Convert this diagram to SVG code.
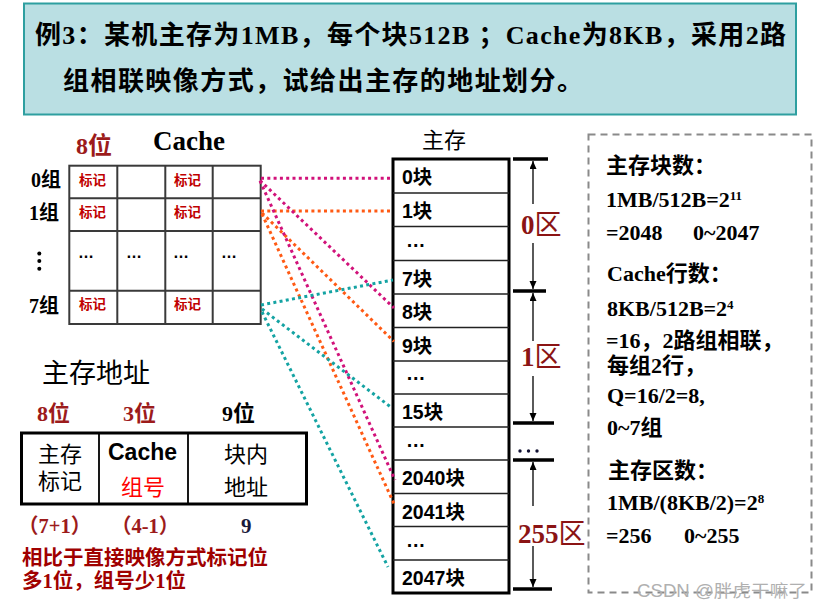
<svg xmlns="http://www.w3.org/2000/svg" width="821" height="610" viewBox="0 0 821 610">
<defs>
<style>
.ser{font-family:"Liberation Serif","Noto Sans CJK SC",serif;font-weight:bold}
.sans{font-family:"Liberation Sans","Noto Sans CJK SC",sans-serif}
.b{font-weight:bold}
.dr{fill:#9c1b1b}
.grid{fill:none;stroke:#3a3a3a;stroke-width:2}
.cell{fill:none;stroke:#222;stroke-width:1.5}
.tag{font-family:"Liberation Sans","Noto Sans CJK SC",sans-serif;font-weight:bold;font-size:13.5px;fill:#c00000}
.blk{font-family:"Liberation Sans","Noto Sans CJK SC",sans-serif;font-weight:bold;font-size:19.5px;fill:#000}
.dot{fill:none;stroke-width:3;stroke-dasharray:3 3.3}
.mg{stroke:#d1127a}
.og{stroke:#ff5a14}
.tl{stroke:#14a3a3}
.bar{stroke:#000;stroke-width:3.5}
.arr{stroke:#000;stroke-width:1.3;marker-end:url(#ah)}
.zone{font-family:"Liberation Serif","Noto Sans CJK SC",serif;font-size:27px;fill:#8b1414}
.rt{font-family:"Liberation Serif","Noto Sans CJK SC",serif;font-weight:bold;font-size:22px;fill:#000}
</style>
<marker id="ah" markerUnits="userSpaceOnUse" markerWidth="9" markerHeight="8" refX="8" refY="3.5" orient="auto">
<path d="M0,0 L8,3.5 L0,7 z" fill="#000"/>
</marker>
</defs>
<rect width="821" height="610" fill="#fff"/>

<g id="title">
<rect x="24" y="3.5" width="772" height="111" fill="#badfe3" stroke="#2e9fa0" stroke-width="2"/>
<text class="ser" x="35" y="44" font-size="26" textLength="751" lengthAdjust="spacing">例3：某机主存为1MB，每个块512B ；Cache为8KB，采用2路</text>
<text class="ser" x="63" y="90" font-size="26" textLength="520" lengthAdjust="spacing">组相联映像方式，试给出主存的地址划分。</text>
</g>

<g id="cache">
<text class="ser dr" x="76" y="154" font-size="24">8位</text>
<text class="ser" x="153" y="150" font-size="27">Cache</text>
<text class="ser" x="31" y="187" font-size="20">0组</text>
<text class="ser" x="29" y="220" font-size="20">1组</text>
<circle cx="39.3" cy="253.5" r="2"/><circle cx="39.3" cy="261" r="2"/><circle cx="39.3" cy="268.8" r="2"/>
<text class="ser" x="29" y="313" font-size="20">7组</text>
<rect class="grid" x="69.3" y="165.7" width="191.4" height="158.3"/>
<path class="grid" d="M117.3,165.7V324M165.3,165.7V324M212.7,165.7V324M69.3,198.3H260.7M69.3,231H260.7M69.3,290.7H260.7"/>
<text class="tag" x="79" y="185">标记</text>
<text class="tag" x="174" y="185">标记</text>
<text class="tag" x="79" y="217">标记</text>
<text class="tag" x="174" y="217">标记</text>
<text class="tag" x="79" y="309">标记</text>
<text class="tag" x="174" y="309">标记</text>
<g class="sans b" font-size="16">
<text x="78" y="258">…</text><text x="126" y="258">…</text><text x="173" y="258">…</text><text x="221" y="258">…</text>
</g>
</g>

<g id="memory">
<text class="sans" x="422" y="148" font-size="22">主存</text>
<rect x="393" y="159" width="116" height="434" fill="none" stroke="#000" stroke-width="3"/>
<path class="cell" d="M393,193H509M393,226.5H509M393,260.5H509M393,294H509M393,327.5H509M393,361H509M393,394H509M393,427H509M393,460H509M393,493.5H509M393,526.5H509M393,560H509"/>
<text class="blk" x="402" y="184">0块</text>
<text class="blk" x="402" y="218">1块</text>
<text class="blk" x="406" y="247" font-size="24">…</text>
<text class="blk" x="402" y="285.5">7块</text>
<text class="blk" x="402" y="319">8块</text>
<text class="blk" x="402" y="352.5">9块</text>
<text class="blk" x="406" y="380" font-size="24">…</text>
<text class="blk" x="402" y="419">15块</text>
<text class="blk" x="406" y="447" font-size="24">…</text>
<text class="blk" x="402" y="485">2040块</text>
<text class="blk" x="402" y="518.5">2041块</text>
<text class="blk" x="406" y="547" font-size="24">…</text>
<text class="blk" x="402" y="585">2047块</text>
</g>

<g id="zones">
<path class="bar" d="M513,159H548M513,291H546M513,423H554M513,460H554M513,589H552"/>
<line class="arr" x1="533" y1="204" x2="533" y2="161"/>
<line class="arr" x1="533" y1="243" x2="533" y2="289"/>
<line class="arr" x1="533" y1="341" x2="533" y2="293"/>
<line class="arr" x1="533" y1="376" x2="533" y2="421"/>
<line class="arr" x1="533" y1="506" x2="533" y2="462"/>
<line class="arr" x1="533" y1="546" x2="533" y2="587"/>
<text class="zone" x="521" y="234"><tspan font-weight="bold">0</tspan>区</text>
<text class="zone" x="521" y="366"><tspan font-weight="bold">1</tspan>区</text>
<text class="zone" x="518" y="543"><tspan font-weight="bold">255</tspan>区</text>
<g fill="#111133"><circle cx="520" cy="451" r="1.7"/><circle cx="528.5" cy="451" r="1.7"/><circle cx="537" cy="451" r="1.7"/></g>
</g>

<g id="connectors">
<line class="dot mg" x1="261" y1="178.3" x2="393" y2="178.3"/>
<line class="dot og" x1="261" y1="211" x2="393" y2="211"/>
<line class="dot mg" x1="260" y1="180.5" x2="394" y2="308"/>
<line class="dot og" x1="262" y1="213" x2="394" y2="341.5"/>
<line class="dot mg" x1="260" y1="181" x2="395" y2="480"/>
<line class="dot og" x1="262" y1="214" x2="395" y2="506"/>
<line class="dot tl" x1="261" y1="305" x2="393" y2="280"/>
<line class="dot tl" x1="262" y1="309" x2="392" y2="408"/>
<line class="dot tl" x1="262" y1="312" x2="388" y2="567"/>
</g>

<g id="address">
<text class="sans" x="42" y="383" font-size="27">主存地址</text>
<text class="ser dr" x="37" y="421" font-size="22">8位</text>
<text class="ser dr" x="123" y="421" font-size="22">3位</text>
<text class="ser" x="222" y="421" font-size="22">9位</text>
<rect x="21.5" y="433" width="285" height="71" fill="none" stroke="#000" stroke-width="3"/>
<path d="M99,433V504M188,433V504" stroke="#000" stroke-width="1.8"/>
<text class="sans" x="38" y="462" font-size="22">主存</text>
<text class="sans" x="38" y="489" font-size="22">标记</text>
<text class="sans b" x="108" y="460" font-size="23">Cache</text>
<text class="sans" x="121" y="495" font-size="22" fill="#ff0000">组号</text>
<text class="sans" x="224" y="462" font-size="22">块内</text>
<text class="sans" x="224" y="495" font-size="22">地址</text>
<text class="ser dr" x="18" y="533" font-size="20.5">（7+1）</text>
<text class="ser dr" x="111" y="533" font-size="20.5">（4-1）</text>
<text class="ser" x="241" y="533" font-size="21" fill="#1a1a3a">9</text>
<text class="ser" x="22" y="565" font-size="20.5" fill="#a00000">相比于直接映像方式标记位</text>
<text class="ser" x="22" y="588" font-size="20.5" fill="#a00000">多1位，组号少1位</text>
</g>

<g id="calc">
<rect x="588.5" y="134.5" width="223" height="458" fill="none" stroke="#8a8a8a" stroke-width="2" stroke-dasharray="7 5"/>
<text class="rt" x="606" y="173">主存块数：</text>
<text class="rt" x="606" y="207">1MB/512B=2<tspan font-size="13" dy="-7">11</tspan></text>
<text class="rt" x="606" y="240">=2048<tspan x="693">0~2047</tspan></text>
<text class="rt" x="607" y="281">Cache行数：</text>
<text class="rt" x="607" y="316">8KB/512B=2<tspan font-size="13" dy="-7">4</tspan></text>
<text class="rt" x="606" y="348">=16，2路组相联，</text>
<text class="rt" x="607" y="373">每组2行，</text>
<text class="rt" x="607" y="403">Q=16/2=8,</text>
<text class="rt" x="607" y="435">0~7组</text>
<text class="rt" x="608" y="478">主存区数：</text>
<text class="rt" x="607" y="510">1MB/(8KB/2)=2<tspan font-size="13" dy="-7">8</tspan></text>
<text class="rt" x="606" y="543">=256<tspan x="684">0~255</tspan></text>
</g>

<text x="637" y="597" font-size="17.5" fill="#b0b0b0" font-family="Liberation Sans,Noto Sans CJK SC,sans-serif" textLength="170" lengthAdjust="spacingAndGlyphs">CSDN @胖虎干嘛了</text>
</svg>
